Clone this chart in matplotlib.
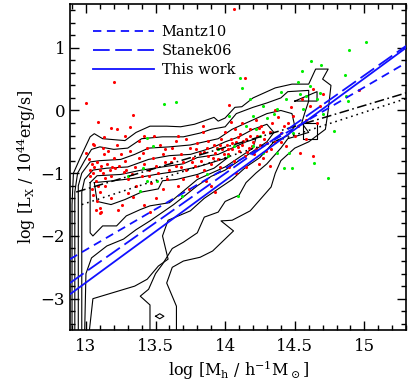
import numpy as np
import matplotlib
matplotlib.use("Agg")
import matplotlib.pyplot as plt
from matplotlib.lines import Line2D
from matplotlib.ticker import MultipleLocator

plt.rcParams['font.family'] = ['DejaVu Serif']
plt.rcParams['mathtext.fontset'] = 'dejavuserif'
plt.rcParams['lines.scale_dashes'] = False

# scaling relations: endpoints in (log M, log Lx)
fit_x = [12.885, 15.3]
mantz10_y = [-2.37, 0.76]
stanek06_y = [-2.75, 1.03]
thiswork_y = [-2.93, 1.0]
dashdot_x = [12.93, 15.3]
dashdot_y = [-1.30, 0.28]
dotted_x = [12.97, 15.3]
dotted_y = [-1.50, 0.19]

# red points (log M, log Lx)
red_x = [13.02, 13.04, 13.03, 13.05, 13.06, 13.08, 13.10, 13.12, 13.07, 13.09, 13.05, 13.08, 13.10, 13.11, 13.07,
         13.13, 13.15, 13.17, 13.14, 13.18, 13.19, 13.16, 13.12, 13.06, 13.20, 13.04, 13.00, 13.10, 13.18, 13.14,
         13.22, 13.25, 13.24, 13.27, 13.30, 13.28, 13.32, 13.35, 13.38, 13.33, 13.36, 13.40, 13.42, 13.45, 13.44,
         13.48, 13.50, 13.52, 13.47, 13.55, 13.57, 13.58, 13.55, 13.50, 13.42, 13.30, 13.26, 13.23, 13.38, 13.28,
         13.53, 13.60, 13.34, 13.46,
         13.62, 13.63, 13.65, 13.68, 13.70, 13.72, 13.70, 13.75, 13.77, 13.78, 13.80, 13.82, 13.83, 13.85, 13.87,
         13.88, 13.90, 13.92, 13.93, 13.95, 13.97, 13.98, 13.96, 13.74, 13.66, 13.86, 13.80, 13.90, 13.72, 13.66,
         13.93, 13.84,
         14.01, 14.02, 14.04, 14.05, 14.06, 14.08, 14.10, 14.11, 14.12, 14.14, 14.15, 14.17, 14.18, 14.20, 14.21,
         14.23, 14.25, 14.26, 14.28, 14.03, 14.08, 14.15, 14.12, 14.22, 14.07, 14.29, 14.24, 14.00,
         14.32, 14.34, 14.36, 14.38, 14.40, 14.42, 14.45, 14.44, 14.47, 14.49, 14.50, 14.52, 14.55, 14.54, 14.58,
         14.61, 14.63, 14.63, 14.66, 14.70, 14.68, 14.32, 14.30, 14.36, 14.96, 14.58,
         14.06, 13.20, 13.00, 14.14, 13.34, 13.09, 13.18, 13.22, 13.32, 13.13, 13.05, 13.42, 13.49, 13.65, 13.84,
         14.03, 14.04, 14.24, 13.10,
         13.85, 13.88, 13.91, 13.94, 13.99, 14.02, 14.05, 14.09, 14.13, 14.16, 14.19, 14.22, 14.27, 13.76, 13.79,
         13.68, 13.61, 13.57, 13.45, 13.41, 13.29, 13.21, 13.11, 13.03, 14.18, 14.09, 13.96, 14.27, 14.33, 14.40]
red_y = [-0.78, -0.85, -0.95, -1.00, -0.90, -0.82, -0.95, -1.00, -1.12, -1.20, -1.35, -1.45, -1.55, -1.62, -1.58,
         -0.70, -0.85, -0.95, -1.08, -1.05, -0.90, -0.65, -0.60, -0.55, -0.75, -1.25, -0.68, -1.30, -1.40, -1.20,
         -0.55, -0.70, -0.88, -0.98, -1.10, -0.80, -0.65, -0.90, -0.75, -1.02, -1.20, -1.05, -0.85, -0.95, -0.60,
         -0.75, -0.88, -1.00, -1.15, -0.70, -0.82, -1.10, -1.25, -1.40, -1.50, -1.32, -1.50, -1.58, -0.48, -0.40,
         -0.55, -0.95, -1.38, -1.62,
         -0.60, -0.75, -0.88, -0.70, -0.82, -0.95, -1.10, -0.60, -0.75, -0.88, -0.52, -0.68, -0.80, -0.95, -0.60,
         -0.72, -0.85, -0.55, -0.67, -0.78, -0.45, -0.62, -0.90, -1.25, -1.20, -1.12, -1.05, -1.20, -0.45, -0.40,
         -1.30, -0.35,
         -0.55, -0.70, -0.45, -0.62, -0.80, -0.50, -0.65, -0.38, -0.55, -0.72, -0.45, -0.60, -0.30, -0.50, -0.70,
         -0.40, -0.55, -0.25, -0.45, -0.90, -1.00, -0.90, -0.20, -0.15, -0.30, -0.65, -0.85, -0.35,
         -0.35, -0.20, -0.50, -0.10, -0.36, -0.25, -0.20, -0.57, 0.05, -0.09, -0.40, -0.25, 0.18, -0.68, -0.15,
         0.07, 0.34, -0.73, -0.20, 0.26, 0.07, -0.89, -0.52, 0.00, 0.32, -0.45,
         1.62, 0.45, 0.12, 0.52, -0.07, -0.19, -0.28, -0.29, -0.27, -0.43, -0.53, -0.41, -0.41, -0.49, -0.24,
         0.08, -0.19, -0.28, -1.63,
         -0.66, -0.48, -0.76, -0.60, -0.70, -0.62, -0.52, -0.58, -0.48, -0.66, -0.56, -0.62, -0.35, -0.82, -0.62,
         -0.90, -0.82, -0.62, -1.05, -0.68, -0.95, -0.92, -0.88, -1.05, -0.40, -0.42, -0.55, -0.75, -0.62, -0.50]

# green points (log M, log Lx)
green_x = [15.01, 14.89, 14.86, 14.62, 14.69, 14.11, 14.12, 13.65, 13.56, 13.44, 13.48, 14.55, 14.64, 14.74,
           14.78, 14.46, 14.48, 14.42, 14.09, 13.69, 13.39, 13.41, 13.44, 13.51, 13.87, 14.02, 14.06, 14.20,
           14.27, 14.37, 14.44, 14.54, 14.58, 14.61, 14.68, 14.66, 14.87, 14.88, 14.22, 14.30, 14.03, 14.18,
           14.37, 14.56, 14.49, 14.20, 14.27, 14.40, 14.52, 14.35, 14.15, 13.95, 14.70, 14.25, 13.30]
green_y = [1.09, 0.96, 0.56, 0.79, 0.72, 0.51, 0.36, 0.13, 0.10, -0.44, -0.57, 0.63, -0.84, -1.07,
           -0.33, -0.68, -0.91, -0.91, -1.36, -1.37, -1.29, -0.91, -1.13, -1.13, -1.02, -0.73, -0.57, -0.09,
           0.07, 0.02, 0.18, 0.26, 0.23, 0.39, 0.28, 0.18, 0.23, 0.15, -0.30, -0.12, -0.09, 0.18,
           -0.68, 0.02, -0.36, -0.57, -0.68, 0.30, 0.45, -0.05, -0.25, -0.62, -0.05, -0.40, -1.05]

# contour lines of the mock halo sample, outermost first
contours = [
    [(12.90, -3.6), (12.90, -1.5), (12.91, -1.0), (12.96, -0.75), (13.03, -0.42), (13.06, -0.37),
     (13.12, -0.45), (13.28, -0.48), (13.36, -0.35), (13.46, -0.25), (13.58, -0.25), (13.68, -0.26),
     (13.78, -0.22), (13.92, -0.11), (13.95, -0.17), (14.00, -0.12), (14.07, 0.05), (14.12, 0.06),
     (14.20, 0.20), (14.36, 0.36), (14.48, 0.42), (14.60, 0.42), (14.65, 0.66), (14.74, 0.66),
     (14.70, 0.50), (14.76, 0.40), (14.74, 0.0), (14.72, -0.30), (14.60, -0.50), (14.50, -0.60),
     (14.40, -0.80), (14.36, -1.00), (14.33, -1.22), (14.18, -1.60), (14.05, -1.75), (13.97, -1.76),
     (14.06, -1.92), (13.91, -2.24), (13.82, -2.34), (13.70, -2.40), (13.62, -2.50), (13.58, -2.75),
     (13.65, -3.12), (13.65, -3.6)],
    [(12.92, -3.6), (12.92, -1.3), (12.94, -1.0), (12.99, -0.80), (13.04, -0.62), (13.10, -0.58),
     (13.20, -0.62), (13.30, -0.60), (13.40, -0.45), (13.55, -0.42), (13.70, -0.42), (13.82, -0.36),
     (13.90, -0.30), (14.00, -0.26), (14.08, -0.05), (14.20, 0.05), (14.30, 0.12), (14.40, 0.20),
     (14.45, 0.30), (14.60, 0.32), (14.60, 0.15), (14.57, -0.05), (14.55, -0.20), (14.60, -0.35),
     (14.45, -0.45), (14.40, -0.60), (14.30, -0.85), (14.22, -1.00), (14.15, -1.15), (14.10, -1.35),
     (14.00, -1.45), (13.95, -1.62), (13.85, -1.70), (13.80, -1.95), (13.70, -2.10), (13.62, -2.20),
     (13.55, -2.45), (13.50, -2.60), (13.45, -2.85), (13.39, -2.96), (13.46, -3.10), (13.46, -3.6)],
    [(12.945, -3.6), (12.945, -1.2), (12.97, -1.0), (13.03, -0.82), (13.10, -0.80), (13.25, -0.78),
     (13.35, -0.70), (13.45, -0.60), (13.60, -0.58), (13.75, -0.55), (13.85, -0.50), (13.95, -0.45),
     (14.05, -0.30), (14.15, -0.20), (14.30, -0.05), (14.40, 0.00), (14.48, -0.05), (14.50, -0.25),
     (14.45, -0.40), (14.35, -0.50), (14.25, -0.75), (14.15, -0.90), (14.05, -1.10), (13.95, -1.25),
     (13.85, -1.40), (13.75, -1.60), (13.59, -1.75), (13.55, -2.0), (13.59, -2.37), (13.52, -2.48),
     (13.44, -2.69), (13.35, -2.80), (13.20, -2.90), (13.05, -3.00), (13.02, -3.6)],
    [(12.97, -3.6), (12.97, -1.3), (12.99, -1.10), (13.05, -0.95), (13.15, -0.92), (13.30, -0.90),
     (13.45, -0.78), (13.60, -0.72), (13.75, -0.70), (13.90, -0.60), (14.00, -0.50), (14.10, -0.42),
     (14.20, -0.30), (14.30, -0.22), (14.35, -0.35), (14.30, -0.50), (14.20, -0.65), (14.10, -0.80),
     (14.00, -0.95), (13.90, -1.05), (13.80, -1.20), (13.63, -1.50), (13.46, -1.76), (13.36, -1.90),
     (13.27, -2.05), (13.15, -2.16), (13.04, -2.35), (13.0, -2.6), (12.99, -3.6)],
    [(13.03, -1.15), (13.08, -1.04), (13.25, -1.02), (13.40, -0.95), (13.55, -0.90), (13.70, -0.85),
     (13.80, -0.75), (13.95, -0.70), (14.05, -0.60), (14.15, -0.50), (14.22, -0.45), (14.20, -0.60),
     (14.10, -0.75), (14.00, -0.90), (13.90, -1.00), (13.80, -1.10), (13.60, -1.47), (13.46, -1.52),
     (13.39, -1.58), (13.29, -1.68), (13.22, -1.84), (13.12, -1.84), (13.05, -2.00), (13.03, -1.95),
     (13.03, -1.15)],
    [(13.06, -1.15), (13.20, -1.12), (13.35, -1.08), (13.50, -1.02), (13.65, -0.97), (13.80, -0.90),
     (13.92, -0.82), (14.02, -0.75), (13.92, -0.92), (13.80, -1.02), (13.65, -1.10), (13.55, -1.12),
     (13.52, -1.25), (13.40, -1.30), (13.28, -1.42), (13.18, -1.50), (13.08, -1.45), (13.06, -1.15)],
    [(14.50, 0.15), (14.66, 0.30), (14.66, 0.15), (14.50, 0.15)],
    [(14.56, -0.20), (14.66, -0.20), (14.66, -0.45), (14.56, -0.45), (14.56, -0.20)],
    [(13.50, -3.28), (13.53, -3.24), (13.56, -3.28), (13.53, -3.32), (13.50, -3.28)],
]

fig = plt.figure(figsize=(4.09, 3.82), dpi=100)
ax = fig.add_axes([0.171, 0.136, 0.822, 0.854])

for c in contours:
    cx, cy = zip(*c)
    ax.plot(cx, cy, color='black', lw=0.8, zorder=1)

ax.scatter(red_x, red_y, s=5, color='#ff0000', linewidths=0, zorder=2)
ax.scatter(green_x, green_y, s=5, color='#00ee00', linewidths=0, zorder=2)

ax.plot(dashdot_x, dashdot_y, color='black', lw=1.1, dashes=(7, 2.5, 1.2, 2.5), zorder=3)
ax.plot(dotted_x, dotted_y, color='black', lw=1.1, dashes=(1.2, 2.8), zorder=3)

blue = '#1010ff'
ax.plot(fit_x, mantz10_y, color=blue, lw=1.3, dashes=(6, 4), zorder=4)
ax.plot(fit_x, stanek06_y, color=blue, lw=1.3, dashes=(12, 4), zorder=4)
ax.plot(fit_x, thiswork_y, color=blue, lw=1.3, zorder=4)

handles = [Line2D([], [], color=blue, lw=1.3, dashes=(6, 4)),
           Line2D([], [], color=blue, lw=1.3, dashes=(12, 4)),
           Line2D([], [], color=blue, lw=1.3)]
ax.legend(handles, ['Mantz10', 'Stanek06', 'This work'], loc='upper left',
          bbox_to_anchor=(0.03, 0.975), frameon=False, handlelength=4.2,
          handletextpad=0.5, labelspacing=0.35, fontsize=10.5)

ax.set_xlim(12.885, 15.3)
ax.set_ylim(-3.5, 1.7)
ax.xaxis.set_major_locator(MultipleLocator(0.5))
ax.xaxis.set_minor_locator(MultipleLocator(0.1))
ax.yaxis.set_major_locator(MultipleLocator(1))
ax.yaxis.set_minor_locator(MultipleLocator(0.2))
ax.tick_params(which='both', direction='in', top=True, right=True, width=1.0, labelsize=12)
ax.tick_params(which='major', length=6.5)
ax.tick_params(axis='x', which='major', pad=6)
ax.tick_params(which='minor', length=3.6)
ax.set_xticks([13, 13.5, 14, 14.5, 15])
ax.set_xticklabels(['13', '13.5', '14', '14.5', '15'])
ax.set_yticks([-3, -2, -1, 0, 1])
ax.set_yticklabels(['\u22123', '\u22122', '\u22121', '0', '1'])
for s in ax.spines.values():
    s.set_linewidth(1.2)

ax.set_xlabel(r'log [M$_{\rm h}$ / h$^{-1}$M$_\odot$]', fontsize=11.5, labelpad=2)
ax.set_ylabel(r'log [L$_{\rm X}$ / 10$^{44}$erg/s]', fontsize=11.5, labelpad=2)

fig.savefig('out.png', dpi=100)
